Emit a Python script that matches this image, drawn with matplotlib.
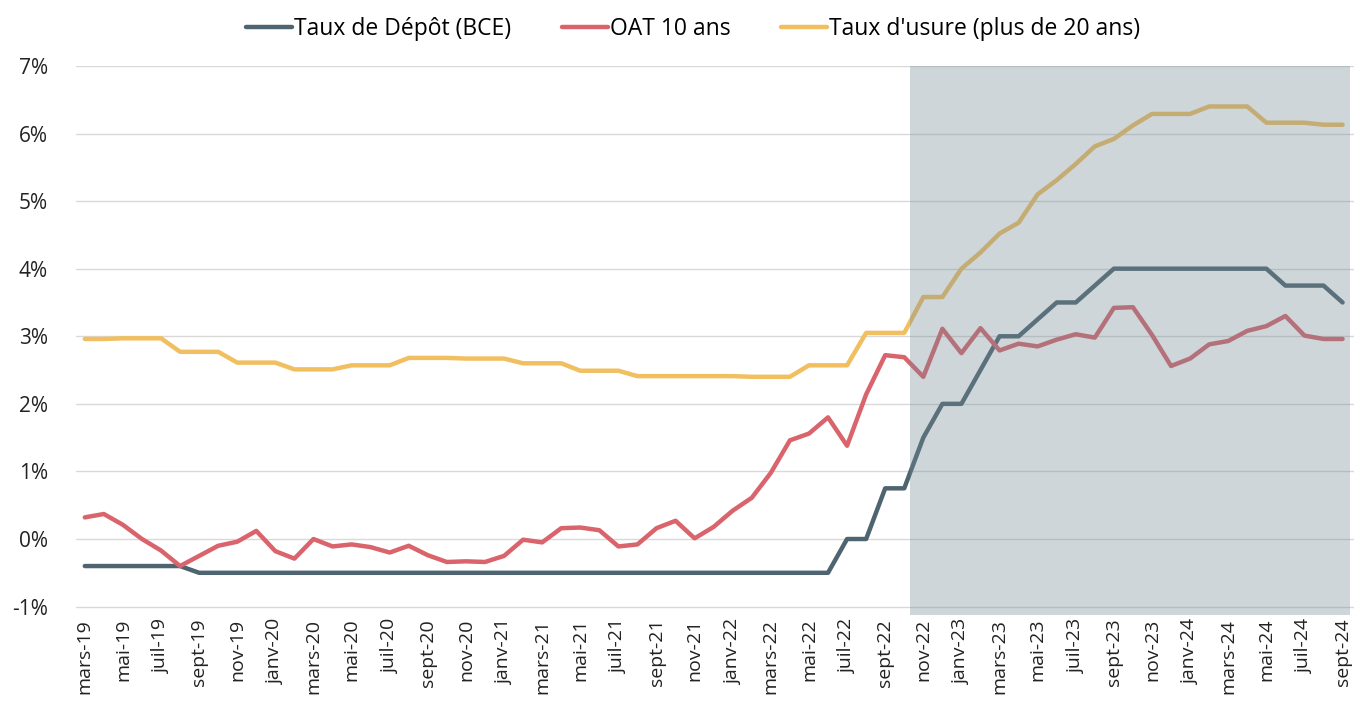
import matplotlib.pyplot as plt
from matplotlib.ticker import FuncFormatter

plt.rcParams['font.family'] = ['Open Sans', 'DejaVu Sans']

# monthly data, mars-19 -> sept-24
mois = ['janv', 'févr', 'mars', 'avr', 'mai', 'juin', 'juil', 'août', 'sept', 'oct', 'nov', 'déc']
labels = []
for y in range(19, 25):
    for m in range(12):
        labels.append(f"{mois[m]}-{y}")
labels = labels[2:2 + 67]

depot = [-0.40, -0.40, -0.40, -0.40, -0.40, -0.40, -0.50, -0.50, -0.50, -0.50,
         -0.50, -0.50, -0.50, -0.50, -0.50, -0.50, -0.50, -0.50, -0.50, -0.50,
         -0.50, -0.50, -0.50, -0.50, -0.50, -0.50, -0.50, -0.50, -0.50, -0.50,
         -0.50, -0.50, -0.50, -0.50, -0.50, -0.50, -0.50, -0.50, -0.50, -0.50,
         0.00, 0.00, 0.75, 0.75, 1.50, 2.00, 2.00, 2.50, 3.00, 3.00,
         3.25, 3.50, 3.50, 3.75, 4.00, 4.00, 4.00, 4.00, 4.00, 4.00,
         4.00, 4.00, 4.00, 3.75, 3.75, 3.75, 3.50]

oat = [0.32, 0.37, 0.21, 0.00, -0.17, -0.40, -0.25, -0.10, -0.04, 0.12,
       -0.18, -0.29, 0.00, -0.11, -0.08, -0.12, -0.20, -0.10, -0.24, -0.34,
       -0.33, -0.34, -0.25, -0.01, -0.05, 0.16, 0.17, 0.13, -0.11, -0.08,
       0.16, 0.27, 0.01, 0.18, 0.42, 0.61, 0.98, 1.46, 1.56, 1.80,
       1.38, 2.14, 2.72, 2.69, 2.40, 3.11, 2.75, 3.12, 2.79, 2.89,
       2.85, 2.95, 3.03, 2.98, 3.42, 3.43, 3.02, 2.56, 2.67, 2.88,
       2.93, 3.08, 3.15, 3.30, 3.01, 2.96, 2.96]

usure = [2.96, 2.96, 2.97, 2.97, 2.97, 2.77, 2.77, 2.77, 2.61, 2.61,
         2.61, 2.51, 2.51, 2.51, 2.57, 2.57, 2.57, 2.68, 2.68, 2.68,
         2.67, 2.67, 2.67, 2.60, 2.60, 2.60, 2.49, 2.49, 2.49, 2.41,
         2.41, 2.41, 2.41, 2.41, 2.41, 2.40, 2.40, 2.40, 2.57, 2.57,
         2.57, 3.05, 3.05, 3.05, 3.58, 3.58, 4.00, 4.24, 4.52, 4.68,
         5.10, 5.31, 5.55, 5.81, 5.92, 6.12, 6.29, 6.29, 6.29, 6.40,
         6.40, 6.40, 6.16, 6.16, 6.16, 6.13, 6.13]

x = list(range(len(labels)))

fig = plt.figure(figsize=(13.54, 7.09), dpi=100)
ax = fig.add_axes([0.056, 0.133, 0.944, 0.774])

ax.plot(x, depot, color='#4E6470', lw=3.2, label='Taux de Dépôt (BCE)', solid_capstyle='round')
ax.plot(x, oat, color='#D9646B', lw=3.2, label='OAT 10 ans', solid_capstyle='round')
ax.plot(x, usure, color='#F1BF60', lw=3.2, label="Taux d'usure (plus de 20 ans)", solid_capstyle='round')

# shaded period (nov-22 onwards), drawn over the lines
ax.axvspan(43.3, 66.4, color='#738A95', alpha=0.35, lw=0, zorder=5)

ax.set_xlim(-0.47, 66.6)
ax.set_ylim(-1.12, 7)
ax.set_yticks(range(-1, 8))
ax.yaxis.set_major_formatter(FuncFormatter(lambda v, p: f"{v:.0f}%"))
ax.grid(axis='y', color='#D9D9D9', lw=1)
ax.set_axisbelow(True)
ax.set_xticks(x[::2])
ax.set_xticklabels(labels[::2], rotation=90, fontsize=14, color='#222222')
ax.tick_params(axis='y', labelsize=15, colors='#222222', length=0, pad=20)
ax.tick_params(axis='x', length=0, pad=3)
for s in ax.spines.values():
    s.set_visible(False)

fig.legend(loc='upper center', bbox_to_anchor=(0.512, 1.005), ncol=3, frameon=False,
           fontsize=16.5, handlelength=2.0, handletextpad=0.1, columnspacing=2.2)

fig.savefig('out.png', dpi=100)
